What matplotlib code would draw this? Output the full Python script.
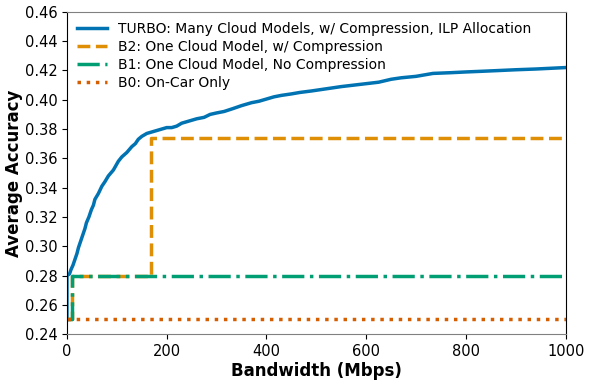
import matplotlib
matplotlib.use("Agg")
import matplotlib.pyplot as plt

# TURBO curve
turbo_bw = [0, 0, 5, 8, 12, 16, 20, 23, 28, 33, 36, 39, 44, 49, 53, 56, 63, 70, 76, 83, 88,
            93, 98, 103, 110, 120, 125, 130, 137, 143, 150, 160, 170, 180, 190, 200, 210,
            220, 230, 240, 250, 260, 275, 287, 300, 315, 333, 350, 370, 385, 400, 415, 430,
            450, 467, 490, 510, 530, 550, 575, 600, 625, 650, 670, 700, 734, 770, 800, 835,
            868, 900, 940, 970, 1000]
turbo_acc = [0.250, 0.280, 0.281, 0.284, 0.287, 0.291, 0.295, 0.299, 0.304, 0.309, 0.312,
             0.316, 0.320, 0.325, 0.328, 0.332, 0.336, 0.341, 0.344, 0.348, 0.350, 0.352,
             0.355, 0.358, 0.361, 0.364, 0.366, 0.368, 0.370, 0.373, 0.375, 0.377, 0.378,
             0.379, 0.380, 0.381, 0.381, 0.382, 0.384, 0.385, 0.386, 0.387, 0.388, 0.390,
             0.391, 0.392, 0.394, 0.396, 0.398, 0.399, 0.4005, 0.402, 0.403, 0.404, 0.405,
             0.406, 0.407, 0.408, 0.409, 0.410, 0.411, 0.412, 0.414, 0.415, 0.416, 0.418,
             0.4185, 0.419, 0.4195, 0.420, 0.4205, 0.421, 0.4215, 0.422]

b2_bw = [0, 10, 168, 1000]
b2_acc = [0.250, 0.280, 0.374, 0.374]

b1_bw = [0, 10, 1000]
b1_acc = [0.250, 0.280, 0.280]

b0_bw = [0, 1000]
b0_acc = [0.250, 0.250]

labels = ["TURBO: Many Cloud Models, w/ Compression, ILP Allocation",
          "B2: One Cloud Model, w/ Compression",
          "B1: One Cloud Model, No Compression",
          "B0: On-Car Only"]

fig = plt.figure(figsize=(5.98, 3.84), dpi=100)
ax = fig.add_axes([0.112, 0.130, 0.834, 0.839])

ax.plot(turbo_bw, turbo_acc, color="#0173b2", lw=2.5, label=labels[0])
ax.plot(b2_bw, b2_acc, drawstyle="steps-post", color="#de8f05", lw=2.5, ls="--", label=labels[1])
ax.plot(b1_bw, b1_acc, drawstyle="steps-post", color="#029e73", lw=2.5, ls="-.", label=labels[2])
ax.plot(b0_bw, b0_acc, drawstyle="steps-post", color="#d55e00", lw=2.5, ls=":", label=labels[3])

ax.set_xlim(0, 1000)
ax.set_ylim(0.24, 0.46)
ax.set_xticks([0, 200, 400, 600, 800, 1000])
ax.set_yticks([0.24 + 0.02 * i for i in range(12)])
ax.set_yticklabels([f"{0.24 + 0.02 * i:.2f}" for i in range(12)])
ax.tick_params(labelsize=10.5)
ax.set_xlabel("Bandwidth (Mbps)", fontsize=12, fontweight="bold", labelpad=2)
ax.set_ylabel("Average Accuracy", fontsize=12, fontweight="bold", labelpad=1)
for s in ["top", "bottom"]:
    ax.spines[s].set_color("gray")

ax.legend(loc="upper left", fontsize=10, frameon=False, handlelength=2.2,
          borderaxespad=0.3, labelspacing=0.3)

fig.savefig("out.png", dpi=100)
